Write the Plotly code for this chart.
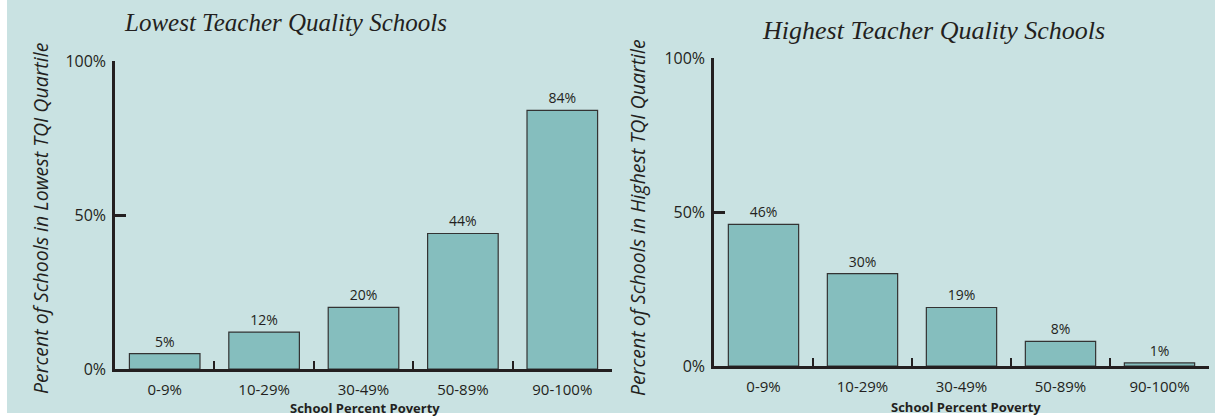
import plotly.graph_objects as go

categories = ["0-9%", "10-29%", "30-49%", "50-89%", "90-100%"]
lowest_values = [5, 12, 20, 44, 84]
highest_values = [46, 30, 19, 8, 1]
y_tickvals = [0, 50, 100]
y_ticktext = ["0%", "50%", "100%"]
titles = ["Lowest Teacher Quality Schools", "Highest Teacher Quality Schools"]
y_titles = ["Percent of Schools in Lowest TQI Quartile",
            "Percent of Schools in Highest TQI Quartile"]
x_title = "School Percent Poverty"

W, H = 1215, 417
BG = "#C9E2E2"
BAR = "#85BEBE"
INK = "#231F20"
SANS = "Open Sans, Noto Sans, sans-serif"
SERIF = "Liberation Serif, DejaVu Serif, serif"


def px(x):
    return x / W


def py(y):
    return (H - y) / H


fig = go.Figure()

for i, vals in enumerate([lowest_values, highest_values]):
    sfx = "" if i == 0 else "2"
    fig.add_trace(go.Bar(
        x=categories, y=vals,
        xaxis="x" + sfx, yaxis="y" + sfx,
        width=0.71,
        marker=dict(color=BAR, line=dict(color="#333333", width=1.2)),
        text=[f"{v}%" for v in vals],
        textposition="outside",
        textfont=dict(family=SANS, size=14, color=INK),
        cliponaxis=False,
        showlegend=False,
        hoverinfo="skip",
    ))

common_x = dict(
    type="category", range=[-0.5, 4.5], showline=True, linewidth=2.5,
    linecolor=INK, ticks="inside", tickson="boundaries", ticklen=8,
    tickwidth=2, tickcolor=INK, showgrid=False, zeroline=False,
    tickfont=dict(family=SANS, size=15, color=INK), fixedrange=True,
    ticklabelstandoff=5, automargin=False,
)
common_y = dict(
    range=[0, 100], tickvals=y_tickvals, ticktext=y_ticktext,
    showline=True, linewidth=2.5, linecolor=INK, ticks="inside",
    ticklen=11, tickwidth=2.5, tickcolor=INK, showgrid=False,
    zeroline=False, tickfont=dict(family=SANS, size=16, color=INK),
    ticklabelstandoff=3, fixedrange=True, automargin=False,
)

L = dict(x0=115, x1=612, y0=369, y1=61)
R = dict(x0=714, x1=1209, y0=366, y1=58)

fig.update_layout(
    width=W, height=H,
    margin=dict(l=0, r=0, t=0, b=0, autoexpand=False),
    paper_bgcolor="white", plot_bgcolor="rgba(0,0,0,0)",
    xaxis=dict(common_x, domain=[px(L["x0"]), px(L["x1"])], anchor="y"),
    yaxis=dict(common_y, domain=[py(L["y0"]), py(L["y1"])], anchor="x"),
    xaxis2=dict(common_x, domain=[px(R["x0"]), px(R["x1"])], anchor="y2"),
    yaxis2=dict(common_y, domain=[py(R["y0"]), py(R["y1"])], anchor="x2"),
    shapes=[dict(type="rect", xref="paper", yref="paper",
                 x0=px(7), x1=1, y0=py(413), y1=1,
                 fillcolor=BG, line=dict(width=0), layer="below")],
)

ann = [
    dict(text=f"<i>{titles[0]}</i>", x=px(285), y=py(22),
         font=dict(family=SERIF, size=25, color=INK)),
    dict(text=f"<i>{titles[1]}</i>", x=px(933), y=py(30),
         font=dict(family=SERIF, size=26, color=INK)),
    dict(text=f"<i>{y_titles[0]}</i>", x=px(40), y=py(218), textangle=-90,
         font=dict(family=SANS, size=19.5, color=INK)),
    dict(text=f"<i>{y_titles[1]}</i>", x=px(637), y=py(218), textangle=-90,
         font=dict(family=SANS, size=19.5, color=INK)),
    dict(text=f"<b>{x_title}</b>", x=px(365), y=py(408),
         font=dict(family=SANS, size=13, color=INK)),
    dict(text=f"<b>{x_title}</b>", x=px(966), y=py(407),
         font=dict(family=SANS, size=13, color=INK)),
]
for a in ann:
    a.update(xref="paper", yref="paper", showarrow=False,
             xanchor="center", yanchor="middle")
fig.update_layout(annotations=ann)

fig.write_html(
    "out.html",
    config={"displayModeBar": False},
    post_script=("document.body.style.margin='0';"
                 "document.body.style.overflow='hidden';"
                 "document.documentElement.style.overflow='hidden';"),
)
